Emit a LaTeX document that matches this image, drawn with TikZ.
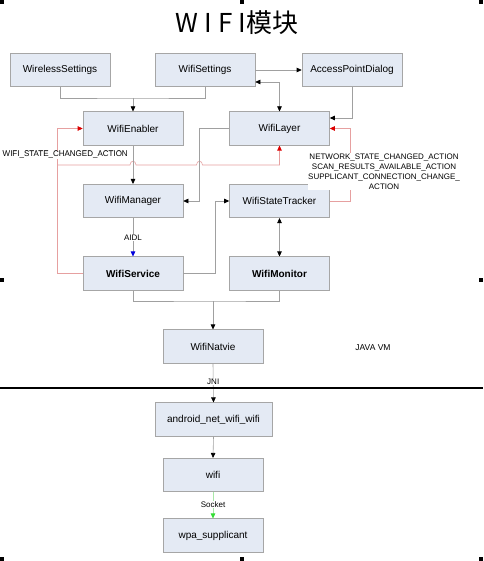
\documentclass[tikz,border=0pt]{standalone}
\usepackage{fontspec}
\setmainfont{Liberation Sans}
\newfontfamily\titlefont{Noto Sans CJK SC}
\usetikzlibrary{arrows.meta}
\definecolor{boxfill}{HTML}{E4EAF4}
\definecolor{boxline}{HTML}{A6A6A6}
\definecolor{connc}{HTML}{A0A0A0}
\definecolor{redline}{HTML}{E6A0A0}
\definecolor{redtip}{HTML}{DD0000}
\definecolor{bluetip}{HTML}{0000DD}
\definecolor{greenline}{HTML}{A8E8A8}
\definecolor{greentip}{HTML}{33DD33}
\begin{document}
\begin{tikzpicture}[x=1pt,y=-1pt,
  box/.style={draw=boxline, fill=boxfill, minimum width=100pt, minimum height=33.5pt, inner sep=0pt, font=\fontsize{10}{12}\selectfont, line width=0.6pt},
  conn/.style={draw=connc, line width=0.6pt},
  tipk/.style={-{Triangle[length=5pt,width=4.5pt,color=black]}},
  arr/.style={conn, tipk},
  darr/.style={conn, {Triangle[length=5pt,width=4.5pt,color=black]}-{Triangle[length=5pt,width=4.5pt,color=black]}},
  rarr/.style={draw=redline, line width=0.6pt, -{Triangle[length=5pt,width=4.5pt,color=redtip]}},
  barr/.style={conn, -{Triangle[length=5pt,width=4.5pt,color=bluetip]}},
  garr/.style={draw=greenline, line width=0.6pt, -{Triangle[length=5pt,width=4.5pt,color=greentip]}},
  lbl/.style={font=\fontsize{8}{10}\selectfont, inner sep=0.5pt, fill=white},
  handle/.style={fill=black}
]
\fill[white] (0,0) rectangle (483,561);
\useasboundingbox (0,0) rectangle (483,561);

% selection handles
\foreach \hx/\hy in {0/0,240/0,479/0,0/278,479/278,0/557,240/557,479/557}
  \fill[handle] (\hx,\hy) rectangle ++(4,4);

% title
\node[font=\titlefont\fontsize{26}{30}\selectfont, inner sep=0pt] (title) at (237,23) {W\kern6pt I\kern6pt F\kern6pt I模块};

% boxes
\node[box] (ws)   at (60,70)      {WirelessSettings};
\node[box] (wset) at (205,70)     {WifiSettings};
\node[box] (apd)  at (352,70)     {AccessPointDialog};
\node[box] (en)   at (133,128.5)  {WifiEnabler};
\node[box] (lay)  at (279.5,128.5){WifiLayer};
\node[box] (mgr)  at (133,201)    {WifiManager};
\node[box] (st)   at (279.5,201)  {WifiStateTracker};
\node[box, font=\fontsize{10}{12}\selectfont\bfseries] (svc) at (133,273.5) {WifiService};
\node[box, font=\fontsize{10}{12}\selectfont\bfseries] (mon) at (279.5,273.5) {WifiMonitor};
\node[box] (nat)  at (213,346.5)  {WifiNatvie};
\node[box, minimum width=117pt] (anw) at (213.5,419.5) {android\_net\_wifi\_wifi};
\node[box] (wifi) at (213,475)    {wifi};
\node[box] (wpa)  at (213,535.5)  {wpa\_supplicant};

% labels
\node[lbl, anchor=west] (wsca) at (2,155) {WIFI\_STATE\_CHANGED\_ACTION};
\node[lbl, align=center] (nsca) at (384,171.5) {NETWORK\_STATE\_CHANGED\_ACTION\\SCAN\_RESULTS\_AVAILABLE\_ACTION\\SUPPLICANT\_CONNECTION\_CHANGE\_\\ACTION};
\node[font=\fontsize{8.5}{10}\selectfont] (jvm) at (373,348) {JAVA VM};

% top connectors
\coordinate (j1) at (133,98);
\draw[conn] (ws.south) |- (j1) -| (wset.south);
\draw[arr] (j1) -- (en.north);
\draw[arr] (wset.east) -- (apd.west);
\draw[darr] (wset.east |- 0,82) -| (lay.north);
\draw[arr] (apd.south) |- (lay.east |- 0,118);

% red broadcast lines (drawn before gray so gray verticals pass over hops)
\coordinate (r1) at (57.5,165);
\draw[rarr] (svc.west) -- ++(-25,0) |- (en.west);
\draw[rarr] (r1) -- (130,165) .. controls (130,160) and (136,160) .. (136,165) -- (196.5,165) .. controls (196.5,160) and (202.5,160) .. (202.5,165) -| (lay.south);
\draw[rarr] (st.east) -- ++(20,0) |- (lay.east);
\node[lbl] at (wsca) {WIFI\_STATE\_CHANGED\_ACTION};
\node[lbl, align=center] at (nsca) {NETWORK\_STATE\_CHANGED\_ACTION\\SCAN\_RESULTS\_AVAILABLE\_ACTION\\SUPPLICANT\_CONNECTION\_CHANGE\_\\ACTION};

% middle connectors
\draw[arr] (en.south) -- (mgr.north);
\draw[arr] (lay.west) -- ++(-30,0) |- (mgr.east);
\draw[arr] (svc.east) -- ++(32,0) |- (st.west);
\draw[barr] (mgr.south) -- node[lbl] {AIDL} (svc.north);
\draw[darr] (st.south) -- (mon.north);

% to native
\coordinate (j2) at (213,301);
\draw[conn] (svc.south) |- (j2) -| (mon.south);
\draw[arr] (j2) -- (nat.north);
\draw[arr] (nat.south) -- node[lbl, pos=0.47] {JNI} (anw.north);
\draw[line width=2pt] (0,388) -- (483,388);
\draw[arr] (anw.south) -- (wifi.north);
\draw[garr] (wifi.south) -- node[lbl, pos=0.48] {Socket} (wpa.north);
\end{tikzpicture}
\end{document}
